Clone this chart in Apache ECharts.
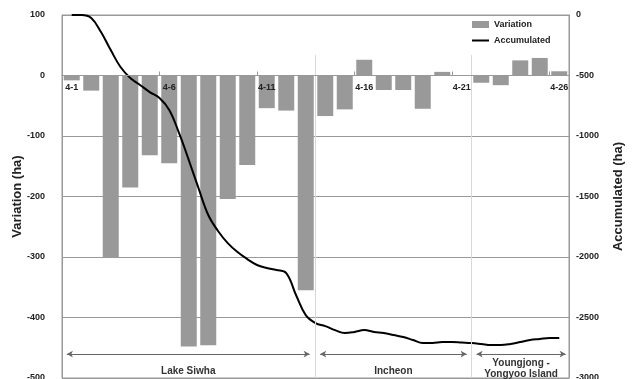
<!DOCTYPE html>
<html>
<head>
<meta charset="utf-8">
<script src="https://cdn.jsdelivr.net/npm/echarts@6/dist/echarts.min.js"></script>
<style>
html,body{margin:0;padding:0;background:#fff;}
#c{width:637px;height:379px;}
</style>
</head>
<body>
<div id="c"></div>
<script>
// Categories (days)
const days = ['4-1','4-2','4-3','4-4','4-5','4-6','4-7','4-8','4-9','4-10','4-11','4-12','4-13',
  '4-14','4-15','4-16','4-17','4-18','4-19','4-20','4-21','4-22','4-23','4-24','4-25','4-26'];
// Daily variation (ha)
const variation = [-8,-25,-300,-185,-132,-145,-448,-446,-204,-148,-54,-58,-355,
  -67,-56,26,-24,-24,-55,6,0,-12,-16,25,29,7];
// Accumulated (ha), read every half day starting at 4-1
const accumulated = [0,0,-25,-141,-290,-430,-521,-578,-637,-686,-785,-975,-1198,-1431,-1653,
  -1785,-1885,-1959,-2017,-2066,-2091,-2107,-2133,-2314,-2480,-2546,-2571,-2604,-2629,-2620,
  -2604,-2620,-2629,-2645,-2661,-2686,-2711,-2711,-2703,-2703,-2707,-2711,-2719,-2728,-2728,
  -2719,-2703,-2686,-2678,-2670,-2670];
const accStep = 0.5;
// Region annotations
const regionNames = ['Lake Siwha','Incheon','Youngjong -\nYongyoo Island'];
const regionSpans = [[-0.25,12.2],[12.74,20.25],[20.76,25.33]];
const regionLabelGap = [12,12,4];
const separators = [12.5,20.5];
const leftTicks = {min:-500,max:100,interval:100};
const rightTicks = {min:-3000,max:0,interval:500};

const lineData = accumulated.map((v,i)=>[i*accStep,v]);
const font = '"Liberation Sans", Arial, sans-serif';

const W = 637, H = 379;
const gridTop = 15, gridBottom = 1;
const plotH = H - gridTop - gridBottom;
// distance from bottom edge of the plot to the zero line of the left axis
const zeroFromBottom = plotH * (0 - leftTicks.min) / (leftTicks.max - leftTicks.min);

const markData = [];
separators.forEach(x=>{
  markData.push([{coord:[x,-330],symbol:'none'},{coord:[x,-3000],symbol:'none',
    lineStyle:{color:'#d8d8d8',width:1,type:'solid'}}]);
});
regionSpans.forEach((s,i)=>{
  markData.push([
    {coord:[s[0],-2802],symbol:'arrow',symbolSize:[5,6],name:regionNames[i]},
    {coord:[s[1],-2802],symbol:'arrow',symbolSize:[5,6],
      lineStyle:{color:'#666',width:1,type:'solid'},
      label:{show:true,position:'insideMiddleBottom',distance:regionLabelGap[i],formatter:regionNames[i],
        fontFamily:font,fontSize:10,fontWeight:'bold',color:'#333',lineHeight:11}}
  ]);
});

const chart = echarts.init(document.getElementById('c'),null,{renderer:'canvas'});
chart.setOption({
  animation:false,
  textStyle:{fontFamily:font},
  grid:{left:62,right:68,top:gridTop,bottom:gridBottom,show:true,borderColor:'#999',borderWidth:1,
    containLabel:false,outerBoundsMode:'none'},
  legend:{
    orient:'vertical',left:472,top:20,padding:0,itemWidth:17,itemHeight:7,itemGap:7,
    textStyle:{fontSize:9,fontWeight:'bold',color:'#222',fontFamily:font},
    data:[{name:'Variation',icon:'rect'},
          {name:'Accumulated',icon:'path://M0,0 L17,0 L17,2 L0,2 Z',itemStyle:{color:'#000'}}]
  },
  xAxis:[
    {type:'category',data:days,boundaryGap:true,position:'bottom',offset:-zeroFromBottom,z:5,
      axisLine:{onZero:false,lineStyle:{color:'#999'}},
      axisTick:{show:true,interval:4,inside:true,length:4,lineStyle:{color:'#999'}},
      axisLabel:{interval:4,fontSize:9,fontWeight:'bold',color:'#222',margin:8,fontFamily:font},
      splitLine:{show:false}},
    {type:'value',min:-0.5,max:25.5,show:false,position:'top',
      axisLine:{onZero:false}}
  ],
  yAxis:[
    {type:'value',min:leftTicks.min,max:leftTicks.max,interval:leftTicks.interval,
      name:'Variation (ha)',nameLocation:'middle',nameGap:38,nameRotate:90,nameMoveOverlap:false,
      nameTextStyle:{fontSize:13,fontWeight:'bold',color:'#222',fontFamily:font},
      axisLine:{show:true,onZero:false,lineStyle:{color:'#999'}},axisTick:{show:false},
      axisLabel:{fontSize:9,fontWeight:'bold',color:'#222',margin:17,fontFamily:font},
      splitLine:{show:true,lineStyle:{color:'#999',width:1}}},
    {type:'value',min:rightTicks.min,max:rightTicks.max,interval:rightTicks.interval,position:'right',
      name:'Accumulated (ha)',nameLocation:'middle',nameGap:43,nameRotate:90,nameMoveOverlap:false,
      nameTextStyle:{fontSize:13,fontWeight:'bold',color:'#222',fontFamily:font},
      axisLine:{show:true,onZero:false,lineStyle:{color:'#999'}},axisTick:{show:false},
      axisLabel:{fontSize:9,fontWeight:'bold',color:'#222',margin:7,fontFamily:font,
        formatter:v=>String(v)},
      splitLine:{show:false}}
  ],
  series:[
    {name:'Variation',type:'bar',data:variation,xAxisIndex:0,yAxisIndex:0,
      barCategoryGap:'18%',itemStyle:{color:'#999999'}},
    {name:'Accumulated',type:'line',data:lineData,xAxisIndex:1,yAxisIndex:1,
      smooth:0.4,symbol:'none',showSymbol:false,
      lineStyle:{color:'#000',width:2},itemStyle:{color:'#000'},
      markLine:{silent:true,symbol:['none','none'],animation:false,
        label:{show:false},lineStyle:{color:'#666',width:1,type:'solid'},
        data:markData}}
  ]
});
</script>
</body>
</html>
